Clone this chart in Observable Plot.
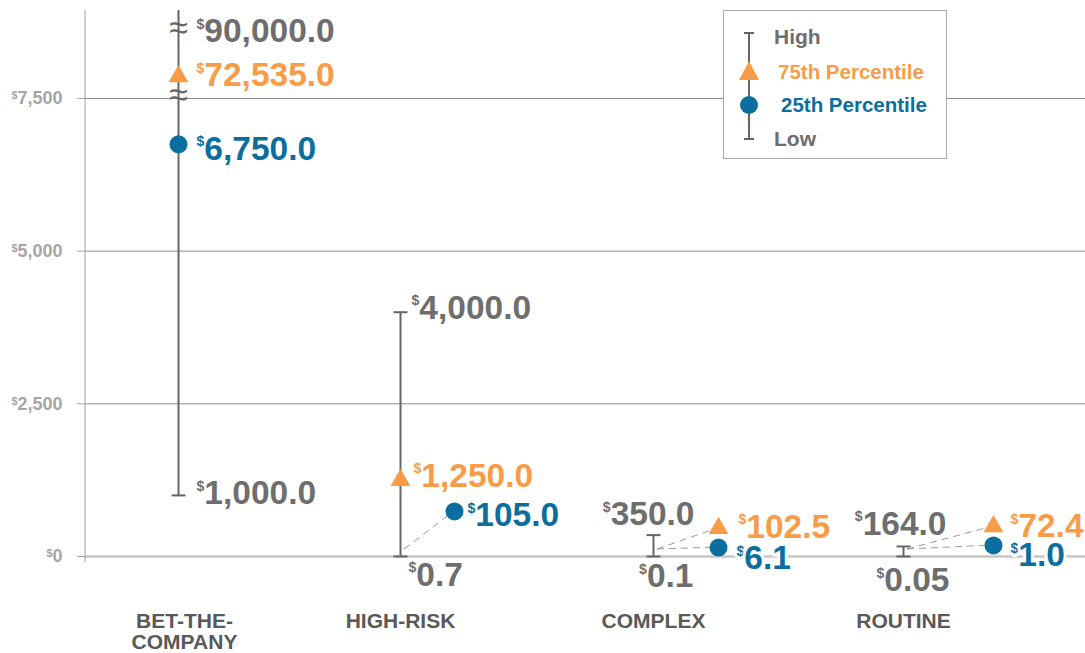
<!DOCTYPE html>
<html>
<head>
<meta charset="utf-8">
<script src="https://cdn.jsdelivr.net/npm/d3@7"></script>
<script src="https://cdn.jsdelivr.net/npm/@observablehq/plot@0.6"></script>
<style>
  html, body { margin: 0; padding: 0; background: #fff; }
  #wrap { position: relative; width: 1085px; height: 653px; font-family: "Liberation Sans", Arial, sans-serif; }
  #legend { position: absolute; left: 723px; top: 10px; width: 222px; height: 147px; border: 1px solid #a8a8a8; background: #fff; }
</style>
</head>
<body>
<div id="wrap"><div id="chart"></div><div id="legend"></div></div>
<script>
// ---- data ----
const categories = ["BET-THE-COMPANY", "HIGH-RISK", "COMPLEX", "ROUTINE"];
const categoryLabels = ["BET-THE-\nCOMPANY", "HIGH-RISK", "COMPLEX", "ROUTINE"];
const highValues = [90000, 4000, 350, 164];
const p75Values = [72535, 1250, 102.5, 72.4];
const p25Values = [6750, 105, 6.1, 1.0];
const lowValues = [1000, 0.7, 0.1, 0.05];
const yTicks = [0, 2500, 5000, 7500];
const legendItems = ["High", "75th Percentile", "25th Percentile", "Low"];

// ---- styles ----
const GRAY = "#6e6e6e", BAR = "#666666", ORANGE = "#f89c47", BLUE = "#0b6e9f", DARK = "#595959";
const FONT = '"Liberation Sans", Arial, sans-serif';
const VALUE_SIZE = 33.5;

const rows = categories.map((c, i) => ({
  cat: c, i, label: categoryLabels[i],
  high: highValues[i], p75: p75Values[i], p25: p25Values[i], low: lowValues[i]
}));

const fmt = v => { let s = d3.format(",")(v); if (!s.includes(".")) s += ".0"; return "$" + s; };

// presentation offsets (pixels): markers nudged off the crowded baseline, label placement
const layout = [
  { catDx: 6,
    mark: { p75: [0, 0], p25: [0, 0] },
    label: { high: [18, 21, "start"], p75: [18, -1, "start"], p25: [18, 5, "start"], low: [18, -2, "start"] } },
  { catDx: 0,
    mark: { p75: [0, 0], p25: [54, -38.6] },
    label: { high: [11, -4, "start"], p75: [13, -4, "start"], p25: [13, 4, "start"], low: [8, 18.5, "start"] } },
  { catDx: 0,
    mark: { p75: [65, -22], p25: [65, -8.6] },
    label: { high: [41, -20.6, "end"], p75: [20, -1, "start"], p25: [18, 11, "start"], low: [40, 20, "end"] } },
  { catDx: 0,
    mark: { p75: [90, -25.6], p25: [90, -11] },
    label: { high: [43, -22.5, "end"], p75: [17, 0, "start"], p25: [17, 10, "start"], low: [46, 24, "end"] } }
];

const capSymbol = { draw(ctx, size) { const r = Math.sqrt(size / Math.PI); ctx.moveTo(-r, 0); ctx.lineTo(r, 0); } };

function axisLine(index, scales, values, dims) {
  return d3.create("svg:line")
    .attr("x1", dims.marginLeft).attr("x2", dims.marginLeft)
    .attr("y1", dims.marginTop).attr("y2", dims.height - dims.marginBottom)
    .attr("stroke", "#a0a0a0").attr("stroke-width", 1).node();
}

function leaders(index, scales) {
  const g = d3.create("svg:g").attr("stroke", "#9a9a9a").attr("stroke-width", 1).attr("stroke-dasharray", "7,5");
  rows.forEach((r, k) => {
    ["p75", "p25"].forEach(key => {
      const [dx, dy] = layout[k].mark[key];
      if (!dx && !dy) return;
      const x0 = scales.x(r.i), y0 = scales.y(r.low);
      g.append("line").attr("x1", x0 + 4).attr("y1", y0 - 7)
        .attr("x2", x0 + dx).attr("y2", scales.y(r[key]) + dy);
    });
  });
  return g.node();
}

const marks = [
  Plot.ruleY(yTicks.filter(d => d > 0), { y: d => d, stroke: "#8c8c8c", strokeWidth: 1 }),
  Plot.ruleY([0], { y: d => d, stroke: "#c6c6c6", strokeWidth: 2.5 }),
  Plot.axisY({ ticks: yTicks, tickSize: 8, tickPadding: 15, label: null,
    tickFormat: d => "$" + d3.format(",")(d), fontSize: 18, fontWeight: "bold", color: "#a6a6a6" }),
  axisLine,
  Plot.ruleX(rows, { x: "i", y1: "low", y2: "high", stroke: BAR, strokeWidth: 2 }),
  Plot.dot(rows, { x: "i", y: "low", symbol: capSymbol, r: 7, stroke: BAR, strokeWidth: 2 }),
  Plot.dot(rows.filter(d => d.i > 0), { x: "i", y: "high", symbol: capSymbol, r: 7, stroke: BAR, strokeWidth: 2 }),
  // axis-break marks on the truncated column
  Plot.text([rows[0]], { x: "i", y: "high", text: () => "≈", dy: 18, fontSize: 34, fill: BAR }),
  Plot.text([rows[0]], { x: "i", y: "p75", text: () => "≈", dy: 19, fontSize: 34, fill: BAR }),
  leaders
];

rows.forEach((r, k) => {
  const L = layout[k];
  const [tdx, tdy] = L.mark.p75, [cdx, cdy] = L.mark.p25;
  marks.push(Plot.dot([r], { x: "i", y: "p75", symbol: "triangle", r: 7.4, fill: ORANGE, dx: tdx, dy: tdy }));
  marks.push(Plot.dot([r], { x: "i", y: "p25", r: 9, fill: BLUE, dx: cdx, dy: cdy }));
  const lab = (key, color, base, extra = {}) => {
    const [dx, dy, anchor] = L.label[key];
    return Plot.text([r], { x: "i", y: key, text: d => fmt(d[key]), dx: base[0] + dx, dy: base[1] + dy,
      textAnchor: anchor, fill: color, fontSize: VALUE_SIZE, fontWeight: "bold", ...extra });
  };
  marks.push(lab("high", GRAY, [0, 0]));
  marks.push(lab("low", GRAY, [0, 0]));
  marks.push(lab("p75", ORANGE, [tdx, tdy]));
  marks.push(lab("p25", BLUE, [cdx, cdy], k >= 2 ? { stroke: "white", strokeWidth: 6, paintOrder: "stroke" } : {}));
  marks.push(Plot.text([r], { x: "i", text: "label", frameAnchor: "bottom", lineAnchor: "top", dy: 51, dx: L.catDx,
    fontSize: 21, fontWeight: "bold", fill: DARK, lineHeight: 1.0 }));
});

const chart = Plot.plot({
  width: 1085, height: 653,
  marginLeft: 85, marginRight: 0, marginTop: 10, marginBottom: 91,
  style: { fontFamily: FONT, background: "white", overflow: "visible" },
  x: { type: "linear", domain: [0, 1, 2, 3], range: [178, 400, 653, 903], axis: null },
  y: { type: "linear", domain: [0, 7850, 72535, 90000], range: [556, 76.6, 76, 10], label: null },
  marks
});
document.getElementById("chart").append(chart);

// superscript dollar signs
const NS = "http://www.w3.org/2000/svg";
chart.querySelectorAll("text").forEach(t => {
  if (t.querySelector("tspan")) return;
  const s = t.textContent;
  if (!s.startsWith("$")) return;
  const fs = parseFloat(getComputedStyle(t).fontSize);
  const small = fs >= 24 ? fs * 0.42 : fs * 0.6;
  const raise = 0.716 * fs - 0.74 * small;
  t.textContent = "";
  const a = document.createElementNS(NS, "tspan");
  a.setAttribute("font-size", small); a.setAttribute("dy", -raise); a.textContent = "$";
  const b = document.createElementNS(NS, "tspan");
  b.setAttribute("dy", raise); b.textContent = s.slice(1);
  t.append(a, b);
});

// legend
const lg = d3.select("#legend").append("svg").attr("width", 222).attr("height", 147)
  .style("font-family", FONT).style("font-weight", "bold");
lg.append("line").attr("x1", 25).attr("x2", 25).attr("y1", 22).attr("y2", 128).attr("stroke", BAR).attr("stroke-width", 2);
lg.append("line").attr("x1", 20).attr("x2", 30).attr("y1", 22).attr("y2", 22).attr("stroke", BAR).attr("stroke-width", 2);
lg.append("line").attr("x1", 20).attr("x2", 30).attr("y1", 128).attr("y2", 128).attr("stroke", BAR).attr("stroke-width", 2);
lg.append("path").attr("d", "M25,50L35,69L15,69Z").attr("fill", ORANGE);
lg.append("circle").attr("cx", 25).attr("cy", 94).attr("r", 9).attr("fill", BLUE);
const legendPos = [[50, 25.5, GRAY, 21], [54, 60.5, ORANGE, 20.5], [57, 94, BLUE, 20.5], [50, 127.5, GRAY, 21]];
legendItems.forEach((txt, j) => {
  const [x, cy, c, fs] = legendPos[j];
  lg.append("text").attr("x", x).attr("y", cy + 7).attr("font-size", fs).attr("fill", c).text(txt);
});
</script>
</body>
</html>
